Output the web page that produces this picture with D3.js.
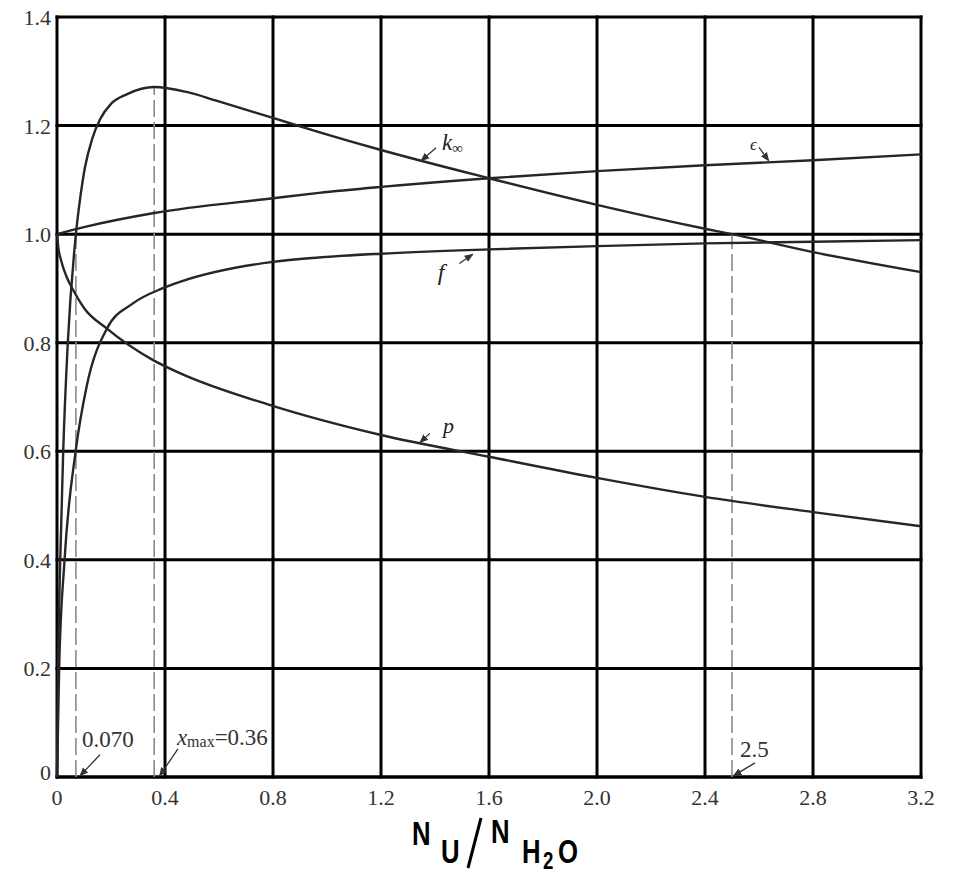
<!DOCTYPE html>
<html>
<head>
<meta charset="utf-8">
<script src="https://cdn.jsdelivr.net/npm/d3@7"></script>
<style>
  html, body { margin: 0; padding: 0; background: #ffffff; }
  svg { display: block; }
  .serif { font-family: "Liberation Serif", "Times New Roman", "DejaVu Serif", serif; }
  .sans { font-family: "Liberation Sans", Arial, "DejaVu Sans", sans-serif; }
</style>
</head>
<body>
<svg id="chart" width="957" height="876"></svg>
<script>
// ---------------- data ----------------
const xTicks = [0, 0.4, 0.8, 1.2, 1.6, 2.0, 2.4, 2.8, 3.2];
const yTicks = [0, 0.2, 0.4, 0.6, 0.8, 1.0, 1.2, 1.4];
const xTickLabels = ["0", "0.4", "0.8", "1.2", "1.6", "2.0", "2.4", "2.8", "3.2"];
const yTickLabels = ["0", "0.2", "0.4", "0.6", "0.8", "1.0", "1.2", "1.4"];

// k_infinity
const kInfX = [0, 0.004, 0.012, 0.023, 0.04, 0.07, 0.085, 0.104, 0.13, 0.16, 0.2, 0.26, 0.36, 0.48, 0.59, 0.8, 0.97, 1.2, 1.6, 2.0, 2.4, 2.5, 2.8, 3.2];
const kInfY = [0, 0.2, 0.4, 0.6, 0.8, 1.0, 1.063, 1.124, 1.175, 1.212, 1.240, 1.258, 1.271, 1.262, 1.246, 1.214, 1.188, 1.155, 1.103, 1.054, 1.010, 1.0, 0.967, 0.930];
// epsilon
const epsX = [0, 0.1, 0.36, 0.8, 0.97, 1.2, 1.6, 2.0, 2.4, 2.8, 3.2];
const epsY = [1.0, 1.013, 1.039, 1.066, 1.076, 1.087, 1.103, 1.116, 1.127, 1.136, 1.147];
// f
const fX = [0, 0.008, 0.028, 0.069, 0.11, 0.185, 0.28, 0.39, 0.455, 0.8, 0.97, 1.2, 1.6, 2.0, 2.4, 2.8, 3.2];
const fY = [0, 0.2, 0.4, 0.6, 0.72, 0.826, 0.872, 0.900, 0.912, 0.949, 0.957, 0.964, 0.972, 0.978, 0.983, 0.986, 0.989];
// p
const pX = [0, 0.005, 0.015, 0.035, 0.06, 0.1, 0.185, 0.356, 0.455, 0.79, 1.2, 1.6, 2.0, 2.4, 2.8, 3.2];
const pY = [1.0, 0.975, 0.952, 0.922, 0.897, 0.864, 0.826, 0.768, 0.744, 0.685, 0.630, 0.590, 0.551, 0.516, 0.488, 0.462];

// dashed reference lines: x position and top value
const refX = [0.07, 0.36, 2.5];
const refTop = [1.0, 1.271, 1.0];

// ---------------- layout ----------------
const svg = d3.select("#chart");
const x = d3.scaleLinear().domain([0, 3.2]).range([57, 921]);
const y = d3.scaleLinear().domain([0, 1.4]).range([777, 17]);

// grid
const grid = svg.append("g").attr("stroke", "#000").attr("stroke-width", 3);
grid.selectAll("line.v").data(xTicks).enter().append("line")
  .attr("x1", d => x(d)).attr("x2", d => x(d))
  .attr("y1", y(0) + 1.5).attr("y2", y(1.4) - 1.5);
grid.selectAll("line.h").data(yTicks).enter().append("line")
  .attr("x1", x(0) - 1.5).attr("x2", x(3.2) + 1.5)
  .attr("y1", d => y(d)).attr("y2", d => y(d))
  .attr("stroke-width", d => d === 0 ? 3.5 : 3);

const bgLayer = svg.append("g");

// dashed reference lines
svg.append("g").selectAll("line").data(refX).enter().append("line")
  .attr("x1", d => x(d)).attr("x2", d => x(d))
  .attr("y1", y(0)).attr("y2", (d, i) => y(refTop[i]))
  .attr("stroke", "#8a8a8a").attr("stroke-width", 1.6)
  .attr("stroke-dasharray", "17,5");

// curves
const line = d3.line().curve(d3.curveMonotoneX).x(d => x(d[0])).y(d => y(d[1]));
const series = [
  d3.zip(kInfX, kInfY),
  d3.zip(epsX, epsY),
  d3.zip(fX, fY),
  d3.zip(pX, pY)
];
svg.append("g").selectAll("path").data(series).enter().append("path")
  .attr("d", line).attr("fill", "none")
  .attr("stroke", "#262626").attr("stroke-width", 2.4)
  .attr("stroke-linejoin", "round");

// tick labels
svg.append("g").attr("class", "serif").selectAll("text").data(xTicks).enter().append("text")
  .attr("x", d => x(d)).attr("y", y(0) + 28)
  .attr("text-anchor", "middle")
  .attr("font-size", 22).attr("fill", "#333")
  .text((d, i) => xTickLabels[i]);
svg.append("g").attr("class", "serif").selectAll("text").data(yTicks).enter().append("text")
  .attr("x", x(0) - 6).attr("y", d => y(d) + (d === 0 ? 3 : 8))
  .attr("text-anchor", "end")
  .attr("font-size", 22).attr("fill", "#333")
  .text((d, i) => yTickLabels[i]);

// arrow marker
const defs = svg.append("defs");
defs.append("marker").attr("id", "arr").attr("viewBox", "0 0 10 10")
  .attr("refX", 9).attr("refY", 5).attr("markerWidth", 7).attr("markerHeight", 7)
  .attr("orient", "auto-start-reverse")
  .append("path").attr("d", "M0,1 L10,5 L0,9 z").attr("fill", "#333");

function leader(x1, y1, x2, y2) {
  svg.append("line").attr("x1", x(x1)).attr("y1", y(y1)).attr("x2", x(x2)).attr("y2", y(y2))
    .attr("stroke", "#333").attr("stroke-width", 1.3).attr("marker-end", "url(#arr)");
}

// curve labels
const ann = svg.append("g").attr("class", "serif").attr("fill", "#222");
const kt = ann.append("text").attr("x", x(1.426)).attr("y", y(1.155)).attr("font-size", 23);
kt.append("tspan").attr("font-style", "italic").text("k");
kt.append("tspan").attr("font-size", 15).attr("dy", 3).text("∞");
leader(1.404, 1.159, 1.348, 1.135);

ann.append("text").attr("x", x(2.567)).attr("y", y(1.155)).attr("font-size", 17)
  .attr("font-style", "italic").text("ϵ");
leader(2.6, 1.16, 2.636, 1.135);

ann.append("text").attr("x", x(1.41)).attr("y", y(0.915)).attr("font-size", 24)
  .attr("font-style", "italic").text("f");
leader(1.49, 0.946, 1.54, 0.963);

ann.append("text").attr("x", x(1.43)).attr("y", y(0.633)).attr("font-size", 22)
  .attr("font-style", "italic").text("p");
leader(1.381, 0.633, 1.344, 0.616);

// bottom annotations
ann.append("text").attr("x", x(0.093)).attr("y", y(0.055)).attr("font-size", 23).attr("fill", "#333").text("0.070");
leader(0.159, 0.041, 0.085, 0.002);

const xm = ann.append("text").attr("x", x(0.444)).attr("y", y(0.059)).attr("font-size", 23).attr("fill", "#333");
xm.append("tspan").attr("font-style", "italic").text("x");
xm.append("tspan").attr("font-size", 16).attr("dy", 2).text("max");
xm.append("tspan").attr("dy", -2).text("=0.36");
const bb = xm.node().getBBox();
bgLayer.append("rect").attr("x", bb.x - 2).attr("y", bb.y - 6)
  .attr("width", bb.width + 4).attr("height", bb.height + 6).attr("fill", "#fff");
leader(0.448, 0.052, 0.38, 0.002);

ann.append("text").attr("x", x(2.53)).attr("y", y(0.037)).attr("font-size", 23).attr("fill", "#333").text("2.5");
leader(2.585, 0.026, 2.505, 0.002);

// axis title  N_U / N_H2O
const tg = svg.append("g").attr("class", "sans").attr("font-weight", "bold").attr("fill", "#000");
function glyph(t, px, py, fs) {
  tg.append("text").attr("transform", `translate(${px},${py}) scale(0.78,1)`)
    .attr("font-size", fs).text(t);
}
glyph("N", 412, 845, 33);
glyph("U", 441, 863, 33);
tg.append("line").attr("x1", 481).attr("y1", 818).attr("x2", 468).attr("y2", 868)
  .attr("stroke", "#000").attr("stroke-width", 3);
glyph("N", 491, 843, 33);
glyph("H", 522, 863, 33);
glyph("2", 543, 869, 24);
glyph("O", 558, 863, 33);
</script>
</body>
</html>
